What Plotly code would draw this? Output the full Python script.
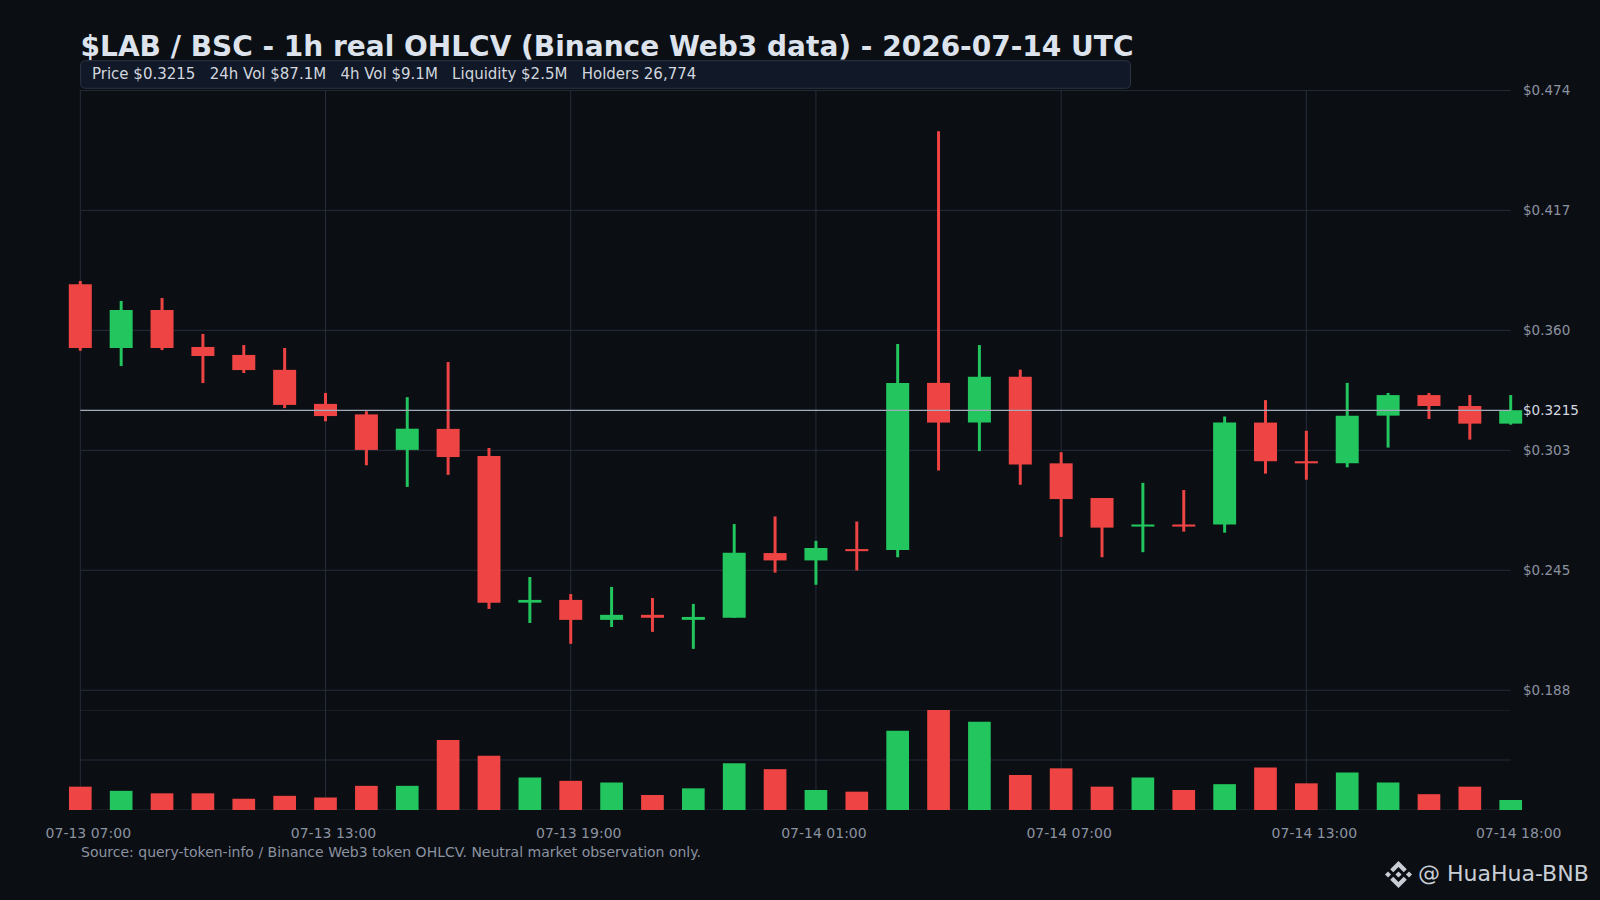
import base64
import pandas as pd
import plotly.graph_objects as go

# page / plot geometry (px)
W, H = 1600, 900
M_L, M_R, M_T, M_B = 66, 75, 90, 90
PLOT_W = W - M_L - M_R
PLOT_H = H - M_T - M_B

BG = '#0b0e13'
GRID = '#252d3a'
UP = '#22c55e'
DOWN = '#ef4444'
MUTED = '#8b93a1'
TEXT = '#dde3ec'

## 1h OHLCV, 07-13 07:00 -> 07-14 18:00 UTC
times = pd.date_range('2026-07-13 07:00', periods=36, freq='h')
opens = [0.3816, 0.3512, 0.3693, 0.3517, 0.3479, 0.3408, 0.3246, 0.3196, 0.3027, 0.3127,
         0.2998, 0.2300, 0.2313, 0.2218, 0.2242, 0.2218, 0.2228, 0.2536, 0.2501, 0.2555,
         0.2550, 0.3346, 0.3157, 0.3375, 0.2963, 0.2798, 0.2662, 0.2672, 0.2672, 0.3157,
         0.2973, 0.2963, 0.3190, 0.3288, 0.3236, 0.3152]
highs = [0.3831, 0.3736, 0.3750, 0.3579, 0.3526, 0.3512, 0.3298, 0.3211, 0.3278, 0.3445,
         0.3036, 0.2422, 0.2341, 0.2375, 0.2322, 0.2294, 0.2674, 0.2710, 0.2594, 0.2686,
         0.3531, 0.4544, 0.3526, 0.3409, 0.3016, 0.2798, 0.2870, 0.2836, 0.3186, 0.3264,
         0.3118, 0.3346, 0.3298, 0.3298, 0.3288, 0.3288]
lows = [0.3499, 0.3426, 0.3502, 0.3345, 0.3393, 0.3226, 0.3163, 0.2954, 0.2851, 0.2908,
        0.2270, 0.2203, 0.2104, 0.2184, 0.2161, 0.2080, 0.2228, 0.2443, 0.2385, 0.2453,
        0.2516, 0.2929, 0.3021, 0.2861, 0.2613, 0.2516, 0.2540, 0.2638, 0.2633, 0.2914,
        0.2885, 0.2944, 0.3038, 0.3174, 0.3076, 0.3147]
closes = [0.3512, 0.3693, 0.3512, 0.3474, 0.3407, 0.3241, 0.3188, 0.3027, 0.3128, 0.2993,
          0.2299, 0.2313, 0.2218, 0.2242, 0.2228, 0.2232, 0.2537, 0.2501, 0.2560, 0.2545,
          0.3346, 0.3157, 0.3375, 0.2958, 0.2793, 0.2657, 0.2672, 0.2662, 0.3157, 0.2973,
          0.2963, 0.3190, 0.3288, 0.3236, 0.3152, 0.3216]
volumes_m = [2.8, 2.3, 2.0, 2.0, 1.35, 1.7, 1.5, 2.9, 2.9, 8.4,
             6.5, 3.9, 3.5, 3.3, 1.8, 2.6, 5.6, 4.9, 2.4, 2.2,
             9.5, 12.0, 10.6, 4.2, 5.0, 2.8, 3.9, 2.4, 3.1, 5.1,
             3.2, 4.5, 3.3, 1.9, 2.8, 1.2]

last_price = 0.3215
price_ticks = [0.1883, 0.2454, 0.3025, 0.3596, 0.4167, 0.4738]
price_labels = ['$0.188', '$0.245', '$0.303', '$0.360', '$0.417', '$0.474']
vol_grid = [0, 6e6, 12e6]
time_ticks = ['2026-07-13 07:00', '2026-07-13 13:00', '2026-07-13 19:00', '2026-07-14 01:00',
              '2026-07-14 07:00', '2026-07-14 13:00', '2026-07-14 18:00']
time_labels = ['07-13 07:00', '07-13 13:00', '07-13 19:00', '07-14 01:00',
               '07-14 07:00', '07-14 13:00', '07-14 18:00']
grid_times = time_ticks[:-1]

title = '$LAB / BSC - 1h real OHLCV (Binance Web3 data) - 2026-07-14 UTC'
info = 'Price $0.3215   24h Vol $87.1M   4h Vol $9.1M   Liquidity $2.5M   Holders 26,774'
source = 'Source: query-token-info / Binance Web3 token OHLCV. Neutral market observation only.'
handle = '@ HuaHua-BNB'

HOUR = 3600 * 1000
x_range = [times[0] - pd.Timedelta(minutes=21), times[-1] + pd.Timedelta(minutes=21)]


def px(x):
    return (x - M_L) / PLOT_W


def py(y):
    return (H - M_B - y) / PLOT_H


colors = [UP if c >= o else DOWN for o, c in zip(opens, closes)]

fig = go.Figure()
# wicks
fig.add_trace(go.Bar(x=times, base=lows, y=[h - l for h, l in zip(highs, lows)],
                     width=0.073 * HOUR, marker=dict(color=colors, line_width=0),
                     hoverinfo='skip', showlegend=False))
# bodies
fig.add_trace(go.Bar(x=times, base=[min(o, c) for o, c in zip(opens, closes)],
                     y=[abs(c - o) for o, c in zip(opens, closes)],
                     width=0.563 * HOUR, marker=dict(color=colors, line_width=0),
                     hoverinfo='skip', showlegend=False))
# volume
fig.add_trace(go.Bar(x=times, y=[v * 1e6 for v in volumes_m], yaxis='y2',
                     width=0.555 * HOUR, marker=dict(color=colors, line_width=0),
                     hoverinfo='skip', showlegend=False))

shapes = []
for t in grid_times:
    shapes.append(dict(type='line', xref='x', yref='paper', x0=t, x1=t, y0=0, y1=1,
                       line=dict(color=GRID, width=1), layer='below'))
for v in price_ticks:
    shapes.append(dict(type='line', xref='x', yref='y', x0=times[0], x1=times[-1], y0=v, y1=v,
                       line=dict(color=GRID, width=1), layer='below'))
for v in vol_grid:
    shapes.append(dict(type='line', xref='x', yref='y2', x0=times[0], x1=times[-1], y0=v, y1=v,
                       line=dict(color=GRID, width=1), layer='below'))
# last price line
shapes.append(dict(type='line', xref='x', yref='y', x0=times[0], x1=times[-1],
                   y0=last_price, y1=last_price, line=dict(color='#a3acba', width=1.2), layer='above'))

# rounded info box under the title
bx0, bx1, by0, by1, r = 80.6, 1130.5, 60.7, 88.3, 5
path = (f'M {px(bx0 + r)} {py(by0)} L {px(bx1 - r)} {py(by0)} Q {px(bx1)} {py(by0)} {px(bx1)} {py(by0 + r)} '
        f'L {px(bx1)} {py(by1 - r)} Q {px(bx1)} {py(by1)} {px(bx1 - r)} {py(by1)} '
        f'L {px(bx0 + r)} {py(by1)} Q {px(bx0)} {py(by1)} {px(bx0)} {py(by1 - r)} '
        f'L {px(bx0)} {py(by0 + r)} Q {px(bx0)} {py(by0)} {px(bx0 + r)} {py(by0)} Z')
shapes.append(dict(type='path', xref='paper', yref='paper', path=path,
                   fillcolor='#111827', line=dict(color='#2b3445', width=1)))

annotations = [
    dict(text=info, xref='paper', yref='paper', x=px(90), y=py(74.5), xanchor='left', yanchor='middle',
         showarrow=False, font=dict(size=15, color='#d1d6de')),
    dict(text='$' + f'{last_price:.4f}', xref='paper', yref='y', x=px(1520.5), y=last_price,
         xanchor='left', yanchor='middle', showarrow=False, font=dict(size=13.5, color='#d5dae2')),
    dict(text=source, xref='paper', yref='paper', x=px(78.6), y=py(852), xanchor='left',
         yanchor='middle', showarrow=False, font=dict(size=14, color=MUTED)),
    dict(text=handle, xref='paper', yref='paper', x=px(1591), y=py(874), xanchor='right',
         yanchor='middle', showarrow=False, font=dict(size=22, color='#c9ced6')),
]

logo_svg = ('<svg xmlns="http://www.w3.org/2000/svg" viewBox="0 0 126.61 126.61"><g fill="#c9ced6">'
            '<path d="m38.73 53.2 24.59-24.58 24.6 24.6 14.3-14.31-38.9-38.91-38.9 38.9z"/>'
            '<path d="m0 63.31 14.3-14.31 14.31 14.31-14.31 14.3z"/>'
            '<path d="m38.73 73.41 24.59 24.59 24.6-24.6 14.31 14.29-38.9 38.91-38.91-38.88z"/>'
            '<path d="m98.28 63.31 14.3-14.31 14.31 14.3-14.31 14.32z"/>'
            '<path d="m77.83 63.3-14.51-14.52-14.51 14.51 14.51 14.51z"/></g></svg>')
logo_src = 'data:image/svg+xml;base64,' + base64.b64encode(logo_svg.encode()).decode()

fig.update_layout(
    width=W, height=H,
    margin=dict(l=M_L, r=M_R, t=M_T, b=M_B),
    paper_bgcolor=BG, plot_bgcolor=BG,
    font=dict(family='DejaVu Sans', color=MUTED),
    barmode='overlay',
    showlegend=False,
    title=dict(text=f'<b>{title}</b>', xref='container', yref='container', x=80.6 / W, y=1 - 46 / H,
               xanchor='left', yanchor='middle', font=dict(size=28, color=TEXT)),
    xaxis=dict(type='date', range=x_range, anchor='y2', tickvals=time_ticks, ticktext=time_labels,
               showgrid=False, zeroline=False, showline=False, ticks='',
               tickfont=dict(size=14, color=MUTED), ticklabelstandoff=13, ticklabelshift=8),
    yaxis=dict(domain=[100 / PLOT_H, 1], range=[0.1789, 0.4740], side='right', anchor='x',
               tickvals=price_ticks, ticktext=price_labels, showgrid=False, zeroline=False,
               showline=False, ticks='', tickfont=dict(size=13.5, color=MUTED), ticklabelstandoff=-3),
    yaxis2=dict(domain=[0, 100 / PLOT_H], range=[0, 12e6], anchor='x', showgrid=False,
                zeroline=False, showline=False, showticklabels=False),
    shapes=shapes,
    annotations=annotations,
    images=[dict(source=logo_src, xref='paper', yref='paper', x=px(1385), y=py(861),
                 sizex=27 / PLOT_W, sizey=27 / PLOT_H, xanchor='left', yanchor='top',
                 sizing='contain', layer='above')],
)

# page body margin would otherwise offset the 1600x900 figure
fig.write_html("out.html", config={'displayModeBar': False},
               post_script="document.body.style.margin='0';"
                           "document.body.style.background='" + BG + "';")
